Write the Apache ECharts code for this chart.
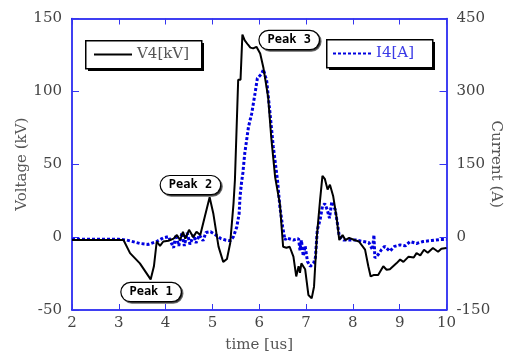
<!DOCTYPE html>
<html>
<head>
<meta charset="utf-8">
<script src="https://cdn.jsdelivr.net/npm/echarts@6/dist/echarts.min.js"></script>
<style>
  html, body { margin: 0; padding: 0; background: #fff; overflow: hidden; }
  #chart { width: 511px; height: 356px; }
</style>
</head>
<body>
<div id="chart"></div>
<script>
// V4 voltage trace, kV
const voltTime = [2.0, 3.1, 3.24, 3.45, 3.68, 3.75, 3.81, 3.88, 3.95, 4.06, 4.17, 4.24, 4.31, 4.37, 4.42, 4.5, 4.59, 4.66, 4.74, 4.81, 4.94, 5.02, 5.13, 5.23, 5.31, 5.38, 5.45, 5.48, 5.55, 5.6, 5.64, 5.69, 5.76, 5.81, 5.87, 5.94, 6.02, 6.09, 6.19, 6.26, 6.34, 6.44, 6.51, 6.58, 6.65, 6.73, 6.79, 6.84, 6.87, 6.9, 6.98, 7.05, 7.12, 7.17, 7.23, 7.3, 7.35, 7.4, 7.46, 7.51, 7.58, 7.65, 7.71, 7.78, 7.84, 7.92, 8.03, 8.13, 8.26, 8.33, 8.38, 8.44, 8.54, 8.65, 8.72, 8.79, 8.93, 9.01, 9.08, 9.19, 9.3, 9.36, 9.44, 9.52, 9.6, 9.71, 9.82, 9.89, 10.0];
const voltVal = [-2, -2, -11, -18, -29, -20, -3, -6, -3, -2.5, -1, 1.5, -2, 3.7, -1, 5, 0, 3.7, 1.5, 10.6, 27.3, 16, -6.5, -17, -15, -4, 23, 39, 108, 108, 139, 135, 132, 130, 129.5, 130.6, 126, 116, 96, 67, 41, 23, -6.6, -7.3, -6.6, -13.4, -27, -20, -24.5, -18, -22, -39.7, -42, -34, 0.3, 25.7, 42, 40, 32.6, 36, 28, 14, -2, 1.4, -2, -0.5, -2, -3, -8.6, -20, -27, -26, -26, -20, -22.4, -22, -18, -15.4, -17, -13.4, -14, -11, -12.5, -8.7, -10.7, -7.5, -10, -8, -7.5];

// I4 current trace, A
const currTime = [2.0, 2.5, 3.0, 3.17, 3.45, 3.63, 3.81, 3.95, 4.06, 4.17, 4.22, 4.28, 4.35, 4.4, 4.46, 4.52, 4.6, 4.65, 4.72, 4.8, 4.86, 4.96, 5.07, 5.18, 5.28, 5.38, 5.45, 5.52, 5.57, 5.59, 5.62, 5.65, 5.69, 5.77, 5.84, 5.91, 5.96, 5.98, 6.05, 6.09, 6.16, 6.23, 6.3, 6.39, 6.44, 6.5, 6.55, 6.58, 6.73, 6.84, 6.87, 6.9, 6.94, 6.98, 7.03, 7.09, 7.16, 7.2, 7.24, 7.3, 7.35, 7.4, 7.45, 7.5, 7.55, 7.62, 7.67, 7.71, 7.8, 7.92, 8.07, 8.22, 8.34, 8.42, 8.45, 8.47, 8.54, 8.61, 8.68, 8.79, 8.89, 9.01, 9.12, 9.22, 9.36, 9.5, 9.68, 9.86, 10.0];
const currVal = [-4.5, -4.5, -4.5, -6, -13, -15, -9, -1.5, 1, -22, 4.5, -18, 9, -18, 9, -15, 4.5, -12, 4.5, -7.5, 9.5, 11, 4.5, -3, -6, -7.5, 1, 21, 48, 84, 111, 132, 172, 227, 255, 296, 327, 324, 336, 345, 321, 255, 186, 117, 63, 21, -6, -1.5, -6, -3, -27, -6, -39, -18, -50, -60, -54, -42, 15, 36, 63, 69, 57, 39, 73, 57, 28, 1.5, -6, -6, -6, -9, -11, -26, 4.5, -43, -36, -26, -19, -29, -19, -16, -18, -9, -13, -9, -7, -5, -5];

// peak annotations (time us, voltage kV)
const peakNames = ['Peak 1', 'Peak 2', 'Peak 3'];
const peakTime = [3.69, 4.53, 6.64];
const peakVolt = [-37.7, 35.7, 135.2];

const AXIS_BLUE = '#0000ee';
const TICK_BLUE = '#3535f0';
const LABEL = '#444';
const SERIF = '"DejaVu Serif", "Liberation Serif", serif';

const chart = echarts.init(document.getElementById('chart'), null, { width: 511, height: 356 });

const pairs = (xs, ys) => xs.map((x, i) => [x, ys[i]]);

// framed legend box with a hard black drop shadow
const legendFrame = (x, y, w, h) => [
  { type: 'rect', left: x + 3, top: y + 3, z: 90, silent: true,
    shape: { width: w, height: h }, style: { fill: '#000' } },
  { type: 'rect', left: x, top: y, z: 91, silent: true,
    shape: { width: w, height: h }, style: { fill: '#fff', stroke: '#000', lineWidth: 1.5 } }
];

const legendBase = {
  orient: 'horizontal',
  backgroundColor: 'transparent',
  borderWidth: 0,
  padding: 0,
  itemWidth: 38,
  itemHeight: 14,
  z: 100,
  itemStyle: { color: 'transparent', borderWidth: 0, opacity: 0 },
  selectedMode: false
};

const valueAxisX = (extra) => Object.assign({
  type: 'value',
  min: 2,
  max: 10,
  interval: 1,
  axisLine: { show: true, onZero: false, lineStyle: { color: AXIS_BLUE, width: 1.5 } },
  axisTick: { show: true, inside: true, length: 6, lineStyle: { color: TICK_BLUE, width: 1 } },
  splitLine: { show: false }
}, extra);

chart.setOption({
  animation: false,
  backgroundColor: '#fff',
  grid: { left: 72, right: 64.5, top: 18.5, bottom: 46, containLabel: false, outerBoundsMode: 'none' },
  graphic: [].concat(legendFrame(85, 40, 116, 28), legendFrame(326, 39, 106, 28)),
  legend: [
    Object.assign({}, legendBase, {
      left: 93, top: 47,
      data: ['V4[kV]'],
      textStyle: { color: '#555', fontFamily: SERIF, fontSize: 15 }
    }),
    Object.assign({}, legendBase, {
      left: 332, top: 46,
      data: ['I4[A]'],
      textStyle: { color: '#3a3ae6', fontFamily: SERIF, fontSize: 15 }
    })
  ],
  xAxis: [
    valueAxisX({
      position: 'bottom',
      name: 'time [us]',
      nameLocation: 'middle',
      nameGap: 28,
      nameTextStyle: { color: '#555', fontFamily: SERIF, fontSize: 15 },
      axisLabel: { color: LABEL, fontFamily: SERIF, fontSize: 15, margin: 6 }
    }),
    valueAxisX({
      position: 'top',
      axisLabel: { show: false }
    })
  ],
  yAxis: [
    {
      type: 'value',
      position: 'left',
      min: -50, max: 150, interval: 50,
      name: 'Voltage (kV)',
      nameLocation: 'middle',
      nameRotate: 90,
      nameGap: 42,
      nameMoveOverlap: false,
      nameTextStyle: { color: '#555', fontFamily: SERIF, fontSize: 15 },
      axisLine: { show: true, onZero: false, lineStyle: { color: AXIS_BLUE, width: 1.5 } },
      axisTick: { show: true, inside: true, length: 7, lineStyle: { color: TICK_BLUE, width: 1 } },
      axisLabel: { color: LABEL, fontFamily: SERIF, fontSize: 15, margin: 10 },
      splitLine: { show: false }
    },
    {
      type: 'value',
      position: 'right',
      min: -150, max: 450, interval: 150,
      name: 'Current (A)',
      nameLocation: 'middle',
      nameRotate: -90,
      nameGap: 42,
      nameMoveOverlap: false,
      nameTextStyle: { color: '#555', fontFamily: SERIF, fontSize: 15 },
      axisLine: { show: true, onZero: false, lineStyle: { color: AXIS_BLUE, width: 1.5 } },
      axisTick: { show: true, inside: true, length: 7, lineStyle: { color: TICK_BLUE, width: 1 } },
      axisLabel: { color: LABEL, fontFamily: SERIF, fontSize: 15, margin: 10 },
      splitLine: { show: false }
    }
  ],
  series: [
    {
      name: 'I4[A]',
      type: 'line',
      yAxisIndex: 1,
      data: pairs(currTime, currVal),
      symbol: 'none',
      color: '#0000e0',
      lineStyle: { color: '#0000e0', width: 3, type: [3, 2], cap: 'butt' },
      z: 2
    },
    {
      name: 'V4[kV]',
      type: 'line',
      yAxisIndex: 0,
      data: pairs(voltTime, voltVal),
      symbol: 'none',
      color: '#000',
      lineStyle: { color: '#000', width: 2 },
      z: 3,
      markPoint: {
        symbol: 'circle',
        symbolSize: 0,
        silent: true,
        data: peakNames.map((n, i) => ({
          name: n,
          coord: [peakTime[i], peakVolt[i]],
          value: n
        })),
        label: {
          show: true,
          position: 'inside',
          formatter: (p) => p.name,
          color: '#000',
          fontFamily: '"DejaVu Sans Mono", monospace',
          fontWeight: 'bold',
          fontSize: 12,
          backgroundColor: '#fff',
          borderColor: '#000',
          borderWidth: 1.2,
          borderRadius: 10,
          padding: [3, 8, 3, 8],
          shadowColor: 'rgba(0,0,0,0.6)',
          shadowBlur: 0,
          shadowOffsetX: 1.5,
          shadowOffsetY: 1.5
        }
      }
    }
  ]
});
</script>
</body>
</html>
